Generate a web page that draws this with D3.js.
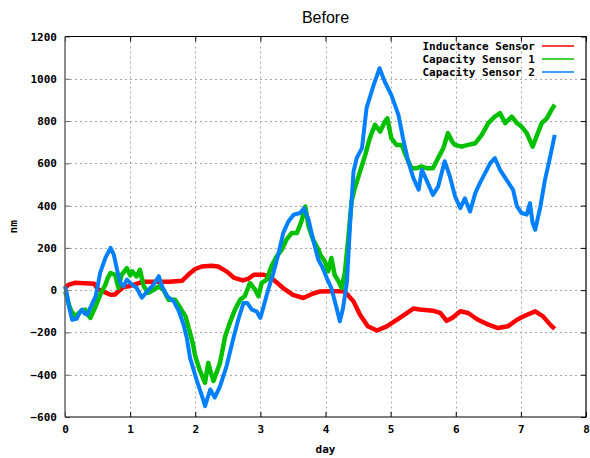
<!DOCTYPE html>
<html>
<head>
<meta charset="utf-8">
<script src="https://cdn.jsdelivr.net/npm/d3@7"></script>
<style>
  body { margin: 0; background: #fff; }
  svg { display: block; }
  .tick text { font-family: "DejaVu Sans Mono", monospace; font-weight: bold; font-size: 11px; fill: #000; }
</style>
</head>
<body>
<svg id="chart" width="590" height="458"></svg>
<script>
// Sensor readings: [day, nm]
const inductanceSensor = [
  [0,10],[0.05,25],[0.15,35],[0.3,33],[0.45,30],[0.5,5],[0.6,-8],[0.7,-22],[0.77,-20],[0.84,0],
  [0.9,15],[1.0,20],[1.1,30],[1.2,40],[1.4,40],[1.6,40],[1.8,45],[1.9,75],[2.0,100],[2.1,112],
  [2.25,116],[2.35,112],[2.48,89],[2.6,58],[2.73,46],[2.82,55],[2.9,73],[3.05,73],[3.12,65],[3.2,50],
  [3.35,10],[3.5,-22],[3.66,-37],[3.8,-17],[3.92,-6],[4.1,-5],[4.28,-5],[4.35,-25],[4.43,-53],[4.53,-116],
  [4.65,-171],[4.79,-191],[4.94,-171],[5.14,-131],[5.35,-87],[5.45,-91],[5.65,-97],[5.76,-107],[5.86,-145],[5.95,-130],
  [6.07,-100],[6.19,-108],[6.34,-140],[6.5,-163],[6.65,-179],[6.8,-171],[6.94,-140],[7.06,-121],[7.22,-100],[7.34,-124],
  [7.45,-163],[7.52,-183]
];

const capacitySensor1 = [
  [0,-6],[0.03,-30],[0.06,-69],[0.1,-100],[0.16,-124],[0.24,-100],[0.31,-92],[0.35,-115],[0.39,-131],[0.47,-76],
  [0.54,-22],[0.62,26],[0.66,60],[0.7,81],[0.77,73],[0.82,10],[0.87,73],[0.95,104],[1.0,70],[1.03,89],
  [1.1,65],[1.15,96],[1.21,18],[1.28,-13],[1.36,2],[1.44,18],[1.51,2],[1.59,-45],[1.69,-45],[1.77,-84],
  [1.85,-124],[1.92,-202],[1.96,-249],[2.0,-312],[2.07,-380],[2.15,-438],[2.2,-344],[2.25,-400],[2.28,-430],[2.38,-344],
  [2.46,-218],[2.53,-155],[2.61,-92],[2.69,-45],[2.76,-29],[2.84,34],[2.92,2],[2.97,-29],[3.02,34],[3.1,50],
  [3.17,113],[3.25,160],[3.33,192],[3.4,239],[3.48,270],[3.56,270],[3.63,325],[3.69,396],[3.74,301],[3.81,239],
  [3.89,192],[3.92,168],[3.99,136],[4.04,89],[4.09,152],[4.14,73],[4.2,42],[4.25,10],[4.3,89],[4.35,247],
  [4.4,420],[4.45,483],[4.53,561],[4.61,640],[4.68,719],[4.76,782],[4.84,750],[4.91,797],[4.95,813],[5.01,719],
  [5.09,687],[5.17,687],[5.25,625],[5.32,577],[5.4,577],[5.48,585],[5.55,577],[5.65,577],[5.73,625],[5.81,672],
  [5.88,743],[5.95,700],[5.99,687],[6.09,679],[6.19,687],[6.3,695],[6.4,735],[6.5,790],[6.6,821],[6.68,837],
  [6.76,790],[6.86,821],[6.94,790],[7.01,774],[7.09,743],[7.18,679],[7.24,727],[7.32,790],[7.4,813],[7.47,853],
  [7.52,877]
];

const capacitySensor2 = [
  [0,18],[0.03,-20],[0.06,-76],[0.11,-140],[0.18,-135],[0.22,-110],[0.26,-92],[0.3,-110],[0.34,-116],[0.39,-83],
  [0.47,-29],[0.54,82],[0.62,153],[0.7,200],[0.75,167],[0.8,96],[0.85,35],[0.9,18],[0.95,50],[1.03,26],
  [1.1,11],[1.18,-36],[1.26,-6],[1.36,26],[1.44,66],[1.49,18],[1.57,-29],[1.67,-53],[1.75,-100],[1.82,-163],
  [1.87,-225],[1.92,-320],[2.02,-423],[2.12,-517],[2.15,-549],[2.23,-470],[2.3,-508],[2.38,-455],[2.48,-360],[2.58,-234],
  [2.66,-140],[2.74,-61],[2.8,-61],[2.87,-92],[2.94,-100],[3.0,-131],[3.05,-76],[3.12,2],[3.2,81],[3.28,176],
  [3.35,270],[3.43,325],[3.51,357],[3.61,365],[3.67,388],[3.74,333],[3.81,239],[3.89,144],[3.95,110],[4.02,57],
  [4.09,10],[4.17,-84],[4.22,-147],[4.27,-84],[4.33,42],[4.38,325],[4.43,561],[4.48,625],[4.56,672],[4.63,861],
  [4.74,971],[4.83,1050],[4.91,986],[5.01,924],[5.12,829],[5.19,719],[5.27,609],[5.35,530],[5.43,475],[5.48,569],
  [5.55,522],[5.65,451],[5.73,490],[5.83,610],[5.91,538],[5.99,443],[6.07,388],[6.14,435],[6.22,372],[6.3,459],
  [6.37,506],[6.45,554],[6.53,601],[6.6,625],[6.68,569],[6.78,522],[6.88,475],[6.94,396],[7.01,365],[7.09,357],
  [7.14,412],[7.18,318],[7.22,286],[7.3,396],[7.37,522],[7.45,632],[7.52,735]
];

const seriesNames = ["Inductance Sensor", "Capacity Sensor 1", "Capacity Sensor 2"];
const seriesColors = ["#ff0000", "#00c000", "#0080ff"];
const xTicks = [0, 1, 2, 3, 4, 5, 6, 7, 8];
const yTicks = [-600, -400, -200, 0, 200, 400, 600, 800, 1000, 1200];

const svg = d3.select("#chart");
const margin = { left: 65, right: 4, top: 36.5, bottom: 41 };
const W = 590, H = 458;
const iw = W - margin.left - margin.right;
const ih = H - margin.top - margin.bottom;

const x = d3.scaleLinear().domain([0, 8]).range([margin.left, margin.left + iw]);
const y = d3.scaleLinear().domain([-600, 1200]).range([margin.top + ih, margin.top]);

// grid
const grid = svg.append("g").attr("stroke", "#a8a8a8").attr("stroke-width", 1).attr("stroke-dasharray", "2,3");
grid.selectAll("line.gx").data(xTicks.slice(1, -1)).join("line")
  .attr("x1", d => Math.round(x(d)) + 0.5).attr("x2", d => Math.round(x(d)) + 0.5)
  .attr("y1", margin.top).attr("y2", margin.top + ih);
grid.selectAll("line.gy").data(yTicks.slice(1, -1)).join("line")
  .attr("x1", margin.left).attr("x2", margin.left + iw)
  .attr("y1", d => Math.round(y(d)) + 0.5).attr("y2", d => Math.round(y(d)) + 0.5);

// data lines (wide strokes stand in for the sensor noise band)
const line = d3.line().x(d => x(d[0])).y(d => y(d[1]));
const allSeries = [inductanceSensor, capacitySensor1, capacitySensor2];
const widths = [4.5, 4.5, 4];
allSeries.forEach((s, i) => {
  svg.append("path").datum(s)
    .attr("fill", "none")
    .attr("stroke", seriesColors[i])
    .attr("stroke-width", widths[i])
    .attr("stroke-linejoin", "round")
    .attr("d", line);
});

// axes (ticks point inward, mirrored on top/right)
const axBottom = svg.append("g").attr("transform", `translate(0,${margin.top + ih})`)
  .call(d3.axisBottom(x).tickValues(xTicks).tickFormat(d3.format("d")).tickSize(-5).tickPadding(8));
const axLeft = svg.append("g").attr("transform", `translate(${margin.left},0)`)
  .call(d3.axisLeft(y).tickValues(yTicks).tickFormat(d3.format("d")).tickSize(-5).tickPadding(8));
const axTop = svg.append("g").attr("transform", `translate(0,${margin.top})`)
  .call(d3.axisTop(x).tickValues(xTicks).tickSize(-5).tickFormat(""));
const axRight = svg.append("g").attr("transform", `translate(${margin.left + iw},0)`)
  .call(d3.axisRight(y).tickValues(yTicks).tickSize(-5).tickFormat(""));
[axBottom, axLeft, axTop, axRight].forEach(g => {
  g.select(".domain").remove();
  g.selectAll(".tick line").attr("stroke", "#000");
});
axLeft.selectAll(".tick line").attr("stroke", "#666");

// border
svg.append("path")
  .attr("d", `M${margin.left},${margin.top}H${margin.left + iw}V${margin.top + ih}H${margin.left}`)
  .attr("fill", "none").attr("stroke", "#000").attr("stroke-width", 1.2);
svg.append("line")
  .attr("x1", margin.left).attr("x2", margin.left)
  .attr("y1", margin.top).attr("y2", margin.top + ih)
  .attr("stroke", "#666").attr("stroke-width", 1.5);

// title and axis labels
svg.append("text").attr("x", margin.left + iw / 2).attr("y", 23)
  .attr("text-anchor", "middle")
  .style("font-family", "'Liberation Sans', Arial, sans-serif").style("font-size", "16px")
  .text("Before");
svg.append("text").attr("x", margin.left + iw / 2).attr("y", 453)
  .attr("text-anchor", "middle")
  .style("font-family", "'DejaVu Sans Mono', monospace").style("font-weight", "bold").style("font-size", "11px")
  .text("day");
svg.append("text").attr("transform", `translate(17,${margin.top + ih / 2}) rotate(-90)`)
  .attr("text-anchor", "middle")
  .style("font-family", "'DejaVu Sans Mono', monospace").style("font-weight", "bold").style("font-size", "11px")
  .text("nm");

// legend
const legend = svg.append("g");
seriesNames.forEach((name, i) => {
  const ly = 46 + i * 13;
  legend.append("text").attr("x", 535).attr("y", ly + 4)
    .attr("text-anchor", "end")
    .style("font-family", "'DejaVu Sans Mono', monospace").style("font-weight", "bold").style("font-size", "11px")
    .text(name);
  legend.append("line").attr("x1", 542).attr("x2", 574).attr("y1", ly).attr("y2", ly)
    .attr("stroke", seriesColors[i]).attr("stroke-width", 1.5);
});
</script>
</body>
</html>
